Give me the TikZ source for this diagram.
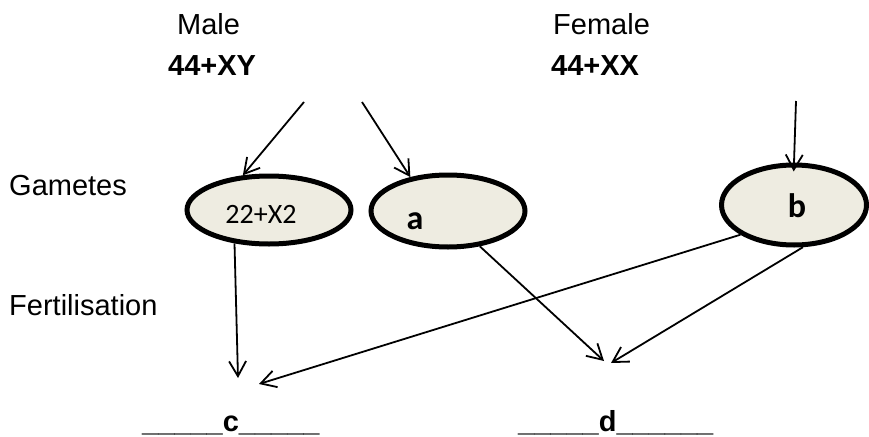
\documentclass[tikz,border=0pt]{standalone}
\usepackage{fontspec}
\setmainfont{Liberation Sans}
\newfontfamily\calfont{Carlito}
\usetikzlibrary{arrows.meta,shapes.geometric}
\definecolor{gamfill}{HTML}{EEECE1}
\begin{document}
\begin{tikzpicture}[x=1pt,y=-1pt,
  lbl/.style={inner sep=0pt, anchor=base west, font=\fontsize{29}{34}\selectfont},
  blbl/.style={inner sep=0pt, anchor=base west, font=\fontsize{29}{34}\selectfont\bfseries},
  gam/.style={ellipse, draw=black, fill=gamfill, line width=5pt, inner sep=0pt},
  gtxt/.style={inner sep=0pt, font=\calfont\fontsize{28}{32}\selectfont},
  gbtxt/.style={inner sep=0pt, font=\calfont\fontsize{34}{38}\selectfont\bfseries},
  arr/.style={line width=1.8pt, -{Straight Barb[length=15pt,width=17pt]}}]
\useasboundingbox (0,0) rectangle (869,436);
% headings
\node[lbl]  (male)   at (177,35) {Male};
\node[blbl] (malek)  at (168,75) {44+XY};
\node[lbl]  (female) at (553,35) {Female};
\node[blbl] (femk)   at (551,75) {44+XX};
\node[lbl]  (gam)    at (9,195)  {Gametes};
\node[lbl]  (fert)   at (9,315)  {Fertilisation};
% gametes
\node[gam, minimum width=164pt, minimum height=68pt] (e1) at (269,210) {};
\node[gam, minimum width=154pt, minimum height=72pt] (ea) at (448,211) {};
\node[gam, minimum width=145pt, minimum height=80pt] (eb) at (794,205) {};
\node[gtxt]  (t1) at (261,214) {22+X2};
\node[gbtxt] (ta) at (415,221) {a};
\node[gbtxt] (tb) at (797,206) {b};
% results
\node[blbl] (c) at (142,431) {\_\_\_\_\_c\_\_\_\_\_};
\node[blbl] (d) at (518,431) {\_\_\_\_\_d\_\_\_\_\_\_};
% connector ends
\coordinate (m1) at (304,102);
\coordinate (m2) at (362,102);
\coordinate (f1) at (796,101);
\coordinate (c1) at (238,378);
\coordinate (c2) at (259,384);
\coordinate (d1) at (604,361);
\coordinate (d2) at (611,363);
% arrows
\draw[arr] (m1) -- (e1.127);
\draw[arr] (m2) -- (ea.138);
\draw[arr, shorten >=-9pt] (f1) -- (eb.north);
\draw[arr] (e1.224) -- (c1);
\draw[arr] (eb.209) -- (c2);
\draw[arr] (ea.312) -- (d1);
\draw[arr] (eb.282) -- (d2);
\end{tikzpicture}
\end{document}
